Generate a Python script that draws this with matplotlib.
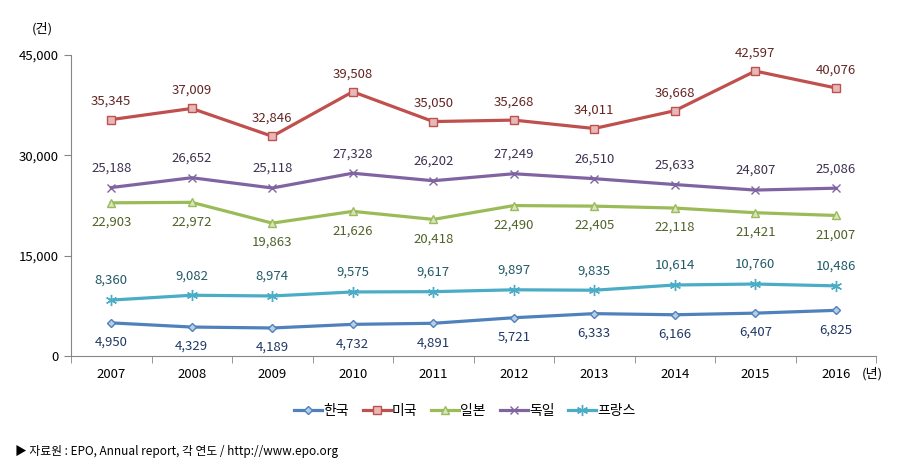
import numpy as np
import matplotlib
matplotlib.use('Agg')
import matplotlib.pyplot as plt
from matplotlib.ticker import FuncFormatter, FixedLocator

plt.rcParams['font.family'] = ['Noto Sans CJK KR', 'DejaVu Sans']

years = ['2007', '2008', '2009', '2010', '2011', '2012', '2013', '2014', '2015', '2016']
korea = [4950, 4329, 4189, 4732, 4891, 5721, 6333, 6166, 6407, 6825]
usa = [35345, 37009, 32846, 39508, 35050, 35268, 34011, 36668, 42597, 40076]
japan = [22903, 22972, 19863, 21626, 20418, 22490, 22405, 22118, 21421, 21007]
germany = [25188, 26652, 25118, 27328, 26202, 27249, 26510, 25633, 24807, 25086]
france = [8360, 9082, 8974, 9575, 9617, 9897, 9835, 10614, 10760, 10486]
y_ticks = [0, 15000, 30000, 45000]

# name, values, line colour, marker, marker size, marker face, label colour, label offset (pt)
series = [
    ('한국', korea, '#4F81BD', 'D', 4.5, '#B9CDE5', '#1F3864', -14),
    ('미국', usa, '#C0504D', 's', 5.5, '#E6B9B8', '#632523', 13),
    ('일본', japan, '#9BBB59', '^', 6, '#D7E4BD', '#4F6228', -14),
    ('독일', germany, '#8064A2', 'x', 6, '#8064A2', '#3F3151', 14),
    ('프랑스', france, '#4BACC6', (6, 2, 0), 8, '#4BACC6', '#215967', 14),
]

fig = plt.figure(figsize=(9.09, 4.68), dpi=100)
ax = fig.add_axes([71 / 909, 1 - 356 / 468, 805 / 909, 301 / 468])

x = np.arange(len(years))
for name, vals, col, mk, ms, mface, tcol, off in series:
    ax.plot(x, vals, color=col, lw=2.3, marker=mk, markersize=ms,
            markerfacecolor=mface, markeredgecolor=col, markeredgewidth=1,
            label=name, solid_joinstyle='round')
    for xi, v in zip(x, vals):
        ax.annotate(f'{v:,}', (xi, v), xytext=(0, off), textcoords='offset points',
                    ha='center', va='center', fontsize=9.5, color=tcol)

ax.set_xlim(-0.5, len(years) - 0.5)
ax.set_ylim(0, 45000)
ax.yaxis.set_major_locator(FixedLocator(y_ticks))
ax.yaxis.set_major_formatter(FuncFormatter(lambda v, p: f'{int(v):,}'))
ax.set_xticks(x)
ax.set_xticklabels(years)
ax.xaxis.set_minor_locator(FixedLocator(np.arange(-0.5, len(years), 1.0)))
ax.tick_params(axis='x', which='major', length=0, pad=9, labelsize=9.5)
ax.tick_params(axis='x', which='minor', length=5, color='#868686')
ax.tick_params(axis='y', length=5, color='#868686', labelsize=9.5, pad=4)
for s in ['top', 'right']:
    ax.spines[s].set_visible(False)
for s in ['left', 'bottom']:
    ax.spines[s].set_color('#868686')

fig.text(42 / 909, 1 - 29 / 468, '(건)', fontsize=9.5, ha='center', va='center')
fig.text(872 / 909, 1 - 374 / 468, '(년)', fontsize=9.5, ha='center', va='center')

ax.legend(loc='center', bbox_to_anchor=(465 / 909, 1 - 411 / 468),
          bbox_transform=fig.transFigure, ncol=5, frameon=False,
          fontsize=10, handlelength=2.0, handletextpad=0.1, columnspacing=1.0)

fig.text(15 / 909, 1 - 451 / 468, '▶ 자료원 : EPO, Annual report, 각 연도 / http://www.epo.org',
         fontsize=8.5, ha='left', va='center')

fig.savefig('out.png', dpi=100)
